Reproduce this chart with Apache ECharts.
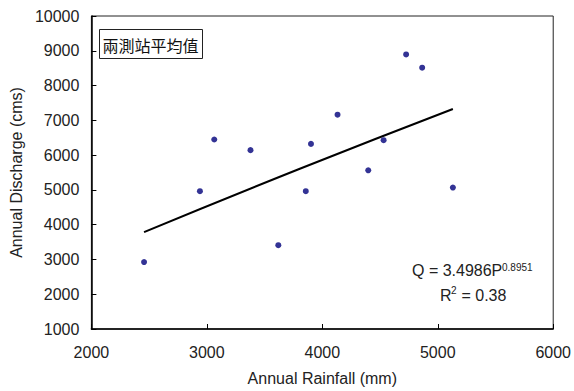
<!DOCTYPE html>
<html>
<head>
<meta charset="utf-8">
<script src="https://cdn.jsdelivr.net/npm/echarts@6/dist/echarts.min.js"></script>
<style>
  html, body { margin: 0; padding: 0; background: #fff; }
  #chart { width: 574px; height: 391px; }
</style>
</head>
<body>
<div id="chart"></div>
<script>
// annual rainfall (mm) vs annual discharge (cms), mean of two stations
const rainfall = [2456, 2940, 3064, 3378, 3619, 3857, 3902, 4132, 4398, 4531, 4726, 4865, 5131];
const discharge = [2924, 4963, 6449, 6143, 3410, 4963, 6323, 7162, 5562, 6429, 8895, 8514, 5067];
// fitted curve Q = 3.4986P^0.8951
const fitRain = [2456, 3800, 5131];
const fitQ = [3786, 5600, 7327];

const xTicks = { min: 2000, max: 6000, step: 1000 };
const yTicks = { min: 1000, max: 10000, step: 1000 };

const font = 'Liberation Sans, Arial, sans-serif';

const chart = echarts.init(document.getElementById('chart'), null, { renderer: 'svg' });

const option = {
  animation: false,
  backgroundColor: '#fff',
  grid: {
    left: 85,
    right: 18,
    top: 16,
    bottom: 60,
    show: true,
    borderColor: '#222',
    borderWidth: 1,
  },
  xAxis: {
    type: 'value',
    min: xTicks.min,
    max: xTicks.max,
    interval: xTicks.step,
    name: 'Annual Rainfall (mm)',
    nameLocation: 'middle',
    nameGap: 41,
    nameTextStyle: { fontFamily: font, fontSize: 16, color: '#222' },
    axisLine: { show: true, lineStyle: { color: '#000', width: 1.5 } },
    axisTick: { show: true, inside: true, length: 5, lineStyle: { color: '#000' } },
    axisLabel: { margin: 15, fontFamily: font, fontSize: 16, color: '#222', formatter: (v) => String(v) },
    splitLine: { show: false },
  },
  yAxis: {
    type: 'value',
    min: yTicks.min,
    max: yTicks.max,
    interval: yTicks.step,
    name: 'Annual Discharge (cms)',
    nameLocation: 'middle',
    nameGap: 64,
    nameTextStyle: { fontFamily: font, fontSize: 16, color: '#222' },
    axisLine: { show: true, lineStyle: { color: '#000', width: 1.5 } },
    axisTick: { show: true, inside: true, length: 5, lineStyle: { color: '#000' } },
    axisLabel: { margin: 12, fontFamily: font, fontSize: 16, color: '#222', formatter: (v) => String(v) },
    splitLine: { show: false },
  },
  series: [
    {
      type: 'line',
      data: fitRain.map((p, i) => [p, fitQ[i]]),
      smooth: true,
      showSymbol: false,
      lineStyle: { color: '#000', width: 2 },
      silent: true,
      z: 2,
    },
    {
      type: 'scatter',
      data: rainfall.map((p, i) => [p, discharge[i]]),
      symbol: 'circle',
      symbolSize: 6,
      itemStyle: { color: '#00007a' },
      z: 3,
    },
  ],
  graphic: {
    elements: [
      {
        type: 'group',
        left: 99,
        top: 29,
        children: [
          {
            type: 'rect',
            shape: { x: 0, y: 0, width: 103, height: 29 },
            style: { fill: '#fff', stroke: '#222', lineWidth: 1 },
          },
          {
            type: 'text',
            x: 3,
            y: 15,
            style: {
              text: '兩測站平均值',
              font: '16px "Noto Sans CJK TC"',
              fill: '#111',
              verticalAlign: 'middle',
            },
          },
        ],
      },
      {
        type: 'text',
        x: 412,
        y: 278,
        style: {
          text: 'Q = 3.4986P',
          font: '16px ' + font,
          fill: '#222',
          verticalAlign: 'bottom',
        },
      },
      {
        type: 'text',
        x: 502,
        y: 272,
        style: {
          text: '0.8951',
          font: '10px ' + font,
          fill: '#222',
          verticalAlign: 'bottom',
        },
      },
      {
        type: 'text',
        x: 440,
        y: 303,
        style: {
          text: 'R',
          font: '16px ' + font,
          fill: '#222',
          verticalAlign: 'bottom',
        },
      },
      {
        type: 'text',
        x: 451,
        y: 295,
        style: {
          text: '2',
          font: '10px ' + font,
          fill: '#222',
          verticalAlign: 'bottom',
        },
      },
      {
        type: 'text',
        x: 457,
        y: 303,
        style: {
          text: ' = 0.38',
          font: '16px ' + font,
          fill: '#222',
          verticalAlign: 'bottom',
        },
      },
    ],
  },
};

chart.setOption(option);
window.addEventListener('resize', () => chart.resize());
</script>
</body>
</html>
